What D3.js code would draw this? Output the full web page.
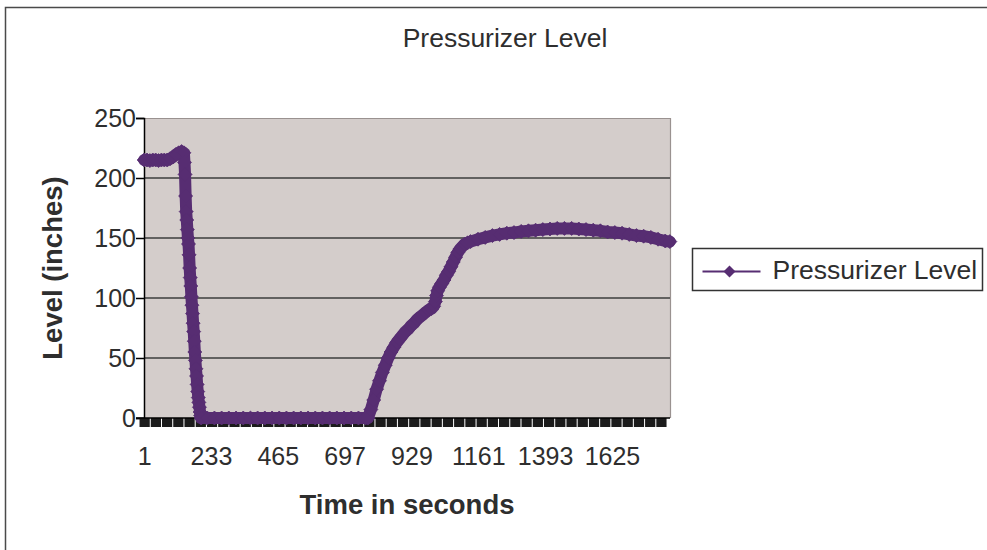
<!DOCTYPE html>
<html>
<head>
<meta charset="utf-8">
<script src="https://cdn.jsdelivr.net/npm/d3@7"></script>
<style>
  body { margin: 0; background: #fff; }
  svg { display: block; font-family: "Liberation Sans", Arial, sans-serif; }
</style>
</head>
<body>
<svg id="chart" width="987" height="550"></svg>
<script>
// Number of one-second samples on the category axis
const sampleCount = 1826;

// Sample number (category) and pressurizer level in inches
const sampleIndex = [
  1, 11, 21, 31, 41, 51, 61, 71, 81, 91, 101, 111, 121, 131, 139,
  141, 143, 145, 147, 149, 151, 153, 155, 157, 159, 161, 163, 165, 167, 169,
  171, 173, 175, 177, 179, 181, 183, 185, 187, 189, 191, 193, 195, 197, 199,
  220, 245, 270, 295, 320, 345, 370, 395, 420, 445, 470, 495, 520, 545, 570,
  595, 620, 645, 670, 695, 720, 745, 770, 778,
  788, 798, 808, 818, 828, 838, 848, 858, 868, 878, 888, 898, 908, 918, 928,
  938, 948, 958, 968, 978, 988, 998, 1006, 1012, 1016, 1020, 1026, 1034, 1042,
  1050, 1058, 1066, 1074, 1082, 1090, 1098, 1106, 1114, 1124, 1134,
  1160, 1185, 1210, 1235, 1260, 1285, 1310, 1335, 1360, 1385, 1410, 1435,
  1460, 1485, 1510, 1535, 1560, 1585, 1610, 1635, 1660, 1685, 1710, 1735,
  1760, 1785, 1810, 1826
];
const level = [
  215, 215, 214.5, 215, 215, 214.5, 215, 215, 215, 216, 217.5, 219.5, 221, 222, 221,
  213, 203, 185, 172, 165, 157, 150, 145, 136, 125, 117, 110, 101, 94, 87,
  79, 72, 64, 55, 48, 41, 35, 28, 22, 17, 13, 9, 5, 2, 0,
  0, 0, 0, 0, 0, 0, 0, 0, 0, 0, 0, 0, 0, 0, 0,
  0, 0, 0, 0, 0, 0, 0, 0, 0,
  7, 15, 24, 31, 38, 44, 50, 55, 59, 63, 66, 69, 72, 74, 77,
  79, 82, 84, 86, 88, 90, 91, 93, 97, 102, 106, 109, 112, 115,
  119, 122, 126, 130, 134, 138, 141, 143, 145, 146, 147,
  149, 150.5, 152, 153, 154, 154.5, 155.5, 156, 156.5, 157, 157.5, 158,
  158, 158, 157.5, 157, 156.5, 156, 155, 154.5, 154, 153, 152, 151.5,
  150.5, 149, 147.5, 147
];

// Axis labels
const xTickLabels = [1, 233, 465, 697, 929, 1161, 1393, 1625];
const xMinorStep = 39;
const yTickValues = [0, 50, 100, 150, 200, 250];
const chartTitle = "Pressurizer Level";
const xTitle = "Time in seconds";
const yTitle = "Level (inches)";
const seriesName = "Pressurizer Level";

const purple = "#572d72";
const textColor = "#2e2e2e";
const svg = d3.select("#chart");

// Outer chart frame
svg.append("rect")
  .attr("x", 5.5).attr("y", 7.5)
  .attr("width", 1000).attr("height", 560)
  .attr("fill", "#fff").attr("stroke", "#4a4a4a").attr("stroke-width", 1.5);

const plot = { left: 144, right: 670, top: 118, bottom: 418 };

const x = d3.scaleLinear()
  .domain([0.5, sampleCount + 0.5])
  .range([plot.left, plot.right]);
const y = d3.scaleLinear()
  .domain([0, 250])
  .range([plot.bottom, plot.top]);

// Plot area
svg.append("rect")
  .attr("x", plot.left).attr("y", plot.top)
  .attr("width", plot.right - plot.left).attr("height", plot.bottom - plot.top)
  .attr("fill", "#d4cdcb");
svg.append("path")
  .attr("d", `M${plot.left},${plot.top + 0.5}H${plot.right + 0.5}V${plot.bottom}`)
  .attr("fill", "none").attr("stroke", "#9a9290").attr("stroke-width", 1.2);

// Horizontal gridlines
svg.append("g")
  .selectAll("line")
  .data(yTickValues.filter(v => v > 0 && v < 250))
  .join("line")
  .attr("x1", plot.left).attr("x2", plot.right)
  .attr("y1", d => y(d)).attr("y2", d => y(d))
  .attr("stroke", "#3c3c3c").attr("stroke-width", 1.5);

// Y axis
const yAxis = svg.append("g")
  .attr("transform", `translate(${plot.left},0)`)
  .call(d3.axisLeft(y).tickValues(yTickValues).tickSize(8).tickPadding(0));
yAxis.select(".domain").attr("stroke", "#000").attr("stroke-width", 1.5);
yAxis.selectAll(".tick line").attr("stroke", "#000").attr("stroke-width", 1.5);
yAxis.selectAll(".tick text")
  .attr("font-size", 25).attr("fill", textColor)
  .attr("font-family", "'Liberation Sans', Arial, sans-serif");

// X axis: dense tick marks
const minorTicks = d3.range(1, sampleCount + 1, xMinorStep);
const xTicks = svg.append("g")
  .attr("transform", `translate(0,${plot.bottom})`)
  .call(d3.axisBottom(x).tickValues(minorTicks).tickSize(9).tickFormat(""));
xTicks.select(".domain").remove();
xTicks.selectAll(".tick line")
  .attr("stroke", "#1c1c1c")
  .attr("stroke-width", (x(xMinorStep) - x(0)) - 1);

svg.append("line")
  .attr("x1", plot.left - 8).attr("x2", plot.right)
  .attr("y1", plot.bottom).attr("y2", plot.bottom)
  .attr("stroke", "#000").attr("stroke-width", 1.5);

// X axis labels
const xLabels = svg.append("g")
  .attr("transform", `translate(0,${plot.bottom})`)
  .call(d3.axisBottom(x).tickValues(xTickLabels).tickSize(0).tickPadding(29).tickFormat(d3.format("d")));
xLabels.select(".domain").remove();
xLabels.selectAll(".tick text")
  .attr("font-size", 25).attr("fill", textColor)
  .attr("font-family", "'Liberation Sans', Arial, sans-serif");

// Series: heavy line under densely packed diamond markers
const points = sampleIndex.map((c, i) => ({ c, v: level[i] }));
const diamond = r => `M0,${-r}L${r},0L0,${r}L${-r},0Z`;

svg.append("path")
  .datum(points)
  .attr("d", d3.line().x(d => x(d.c)).y(d => y(d.v)))
  .attr("fill", "none").attr("stroke", purple)
  .attr("stroke-width", 12).attr("stroke-linejoin", "round").attr("stroke-linecap", "round");

svg.append("g")
  .selectAll("path")
  .data(points)
  .join("path")
  .attr("transform", d => `translate(${x(d.c)},${y(d.v)})`)
  .attr("d", diamond(7))
  .attr("fill", purple).attr("stroke", purple).attr("stroke-width", 0.8);

// Titles
svg.append("text")
  .attr("x", 505).attr("y", 47)
  .attr("text-anchor", "middle")
  .attr("font-size", 26.5).attr("fill", textColor)
  .text(chartTitle);

svg.append("text")
  .attr("x", (plot.left + plot.right) / 2).attr("y", 514)
  .attr("text-anchor", "middle")
  .attr("font-size", 27.5).attr("font-weight", "bold").attr("fill", textColor)
  .text(xTitle);

svg.append("text")
  .attr("transform", `translate(62,${(plot.top + plot.bottom) / 2}) rotate(-90)`)
  .attr("text-anchor", "middle")
  .attr("font-size", 27.5).attr("font-weight", "bold").attr("fill", textColor)
  .text(yTitle);

// Legend
const legend = svg.append("g").attr("transform", "translate(692.5,248.5)");
legend.append("rect")
  .attr("width", 290).attr("height", 42)
  .attr("fill", "#fff").attr("stroke", "#333").attr("stroke-width", 1.5);
legend.append("line")
  .attr("x1", 10).attr("x2", 68).attr("y1", 23).attr("y2", 23)
  .attr("stroke", purple).attr("stroke-width", 2);
legend.append("path")
  .attr("transform", "translate(37,23)")
  .attr("d", diamond(6))
  .attr("fill", purple);
legend.append("text")
  .attr("x", 80).attr("y", 30)
  .attr("font-size", 26.5).attr("fill", textColor)
  .text(seriesName);
</script>
</body>
</html>
